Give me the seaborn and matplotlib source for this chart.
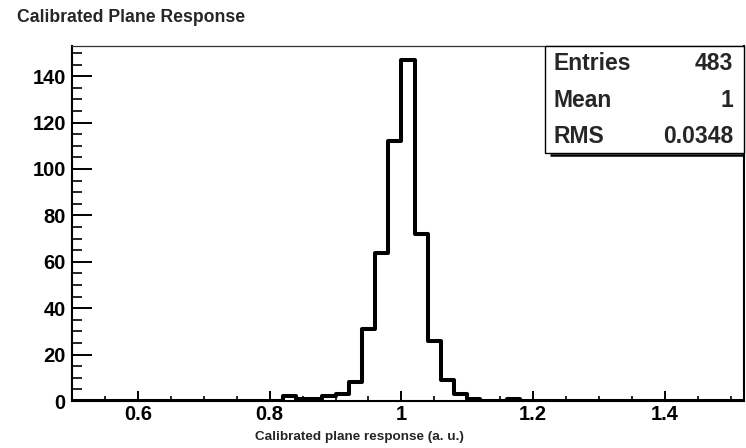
import numpy as np
import pandas as pd
import matplotlib
matplotlib.use("Agg")
import matplotlib.pyplot as plt
from matplotlib.patches import Rectangle
from matplotlib.ticker import FixedLocator, MultipleLocator
import seaborn as sns

# Histogram binning: 51 bins of width 0.02 from 0.5 to 1.52
x_lo, x_hi, bin_width = 0.5, 1.52, 0.02

# Lower edges of the occupied bins and their counts
bin_low_edges = [0.82, 0.84, 0.86, 0.88, 0.90, 0.92, 0.94, 0.96, 0.98,
                 1.00, 1.02, 1.04, 1.06, 1.08, 1.10, 1.16]
bin_counts = [2, 1, 1, 2, 3, 8, 31, 64, 112,
              147, 72, 26, 9, 3, 1, 1]

x_ticks = [0.6, 0.8, 1.0, 1.2, 1.4]
x_tick_labels = ["0.6", "0.8", "1", "1.2", "1.4"]
y_ticks = [0, 20, 40, 60, 80, 100, 120, 140]
y_tick_labels = ["0", "20", "40", "60", "80", "100", "120", "140"]

stat_mean = "1"
stat_rms = "0.0348"

sns.set_style("ticks")
plt.rcParams["font.family"] = ["Liberation Sans", "DejaVu Sans"]
plt.rcParams["font.weight"] = "bold"

fig = plt.figure(figsize=(7.46, 4.48), dpi=100)
ax = fig.add_axes([72 / 746, 47 / 448, 672 / 746, 355 / 448])

n_bins = int(round((x_hi - x_lo) / bin_width))
edges = [float(e) for e in np.linspace(x_lo, x_hi, n_bins + 1)]
hist_df = pd.DataFrame({
    "response": np.array(bin_low_edges) + bin_width / 2,
    "count": bin_counts,
})

sns.histplot(data=hist_df, x="response", weights="count", bins=edges,
             element="step", fill=False, color="black", linewidth=2.9, ax=ax)

ax.set_xlim(x_lo, x_hi)
ax.set_ylim(0, 153)
ax.set_xlabel("")
ax.set_ylabel("")

ax.xaxis.set_major_locator(FixedLocator(x_ticks))
ax.set_xticklabels(x_tick_labels)
ax.xaxis.set_minor_locator(MultipleLocator(0.05))
ax.yaxis.set_major_locator(FixedLocator(y_ticks))
ax.set_yticklabels(y_tick_labels)
ax.yaxis.set_minor_locator(MultipleLocator(5))

ax.tick_params(axis="x", which="major", direction="in", length=7.5, width=1.4,
               pad=3, labelsize=14.5, colors="black")
ax.tick_params(axis="x", which="minor", direction="in", length=3.8, width=1.4)
ax.tick_params(axis="y", which="major", direction="in", length=14.5, width=1.4,
               pad=4.5, labelsize=14.5, colors="black")
ax.tick_params(axis="y", which="minor", direction="in", length=7.2, width=1.4)
for lab in ax.get_xticklabels() + ax.get_yticklabels():
    lab.set_fontweight("bold")

for side in ["left", "bottom", "right"]:
    ax.spines[side].set_visible(True)
    ax.spines[side].set_color("black")
    ax.spines[side].set_linewidth(1.5)
ax.spines["top"].set_visible(True)
ax.spines["top"].set_color("#333333")
ax.spines["top"].set_linewidth(0.9)

# Statistics box in the upper right corner
box_x0, box_y0 = 0.704, 0.699
ax.add_patch(Rectangle((box_x0, box_y0), 1 - box_x0, 1 - box_y0,
                       transform=ax.transAxes, facecolor="white",
                       edgecolor="black", linewidth=1.0, zorder=5,
                       clip_on=False))
ax.plot([box_x0 + 0.008, 1.0], [box_y0 - 0.006, box_y0 - 0.006],
        transform=ax.transAxes, color="black", linewidth=1.8,
        solid_capstyle="butt", zorder=5, clip_on=False)

entries = int(sum(bin_counts))
rows = [("Entries", f"{entries}", 0.951),
        ("Mean", stat_mean, 0.846),
        ("RMS", stat_rms, 0.746)]
for name, val, yy in rows:
    ax.text(0.717, yy, name, transform=ax.transAxes, ha="left", va="center",
            fontsize=16.5, fontweight="bold", zorder=6)
    ax.text(0.9836, yy, val, transform=ax.transAxes, ha="right", va="center",
            fontsize=16.5, fontweight="bold", zorder=6)

fig.text(17 / 746, 1 - 17 / 448, "Calibrated Plane Response",
         ha="left", va="center", fontsize=12.7, fontweight="bold")
fig.text(255 / 746, 1 - 437 / 448, "Calibrated plane response (a. u.)",
         ha="left", va="center", fontsize=9.7, fontweight="bold")

fig.savefig("out.png", dpi=100, facecolor="white")
